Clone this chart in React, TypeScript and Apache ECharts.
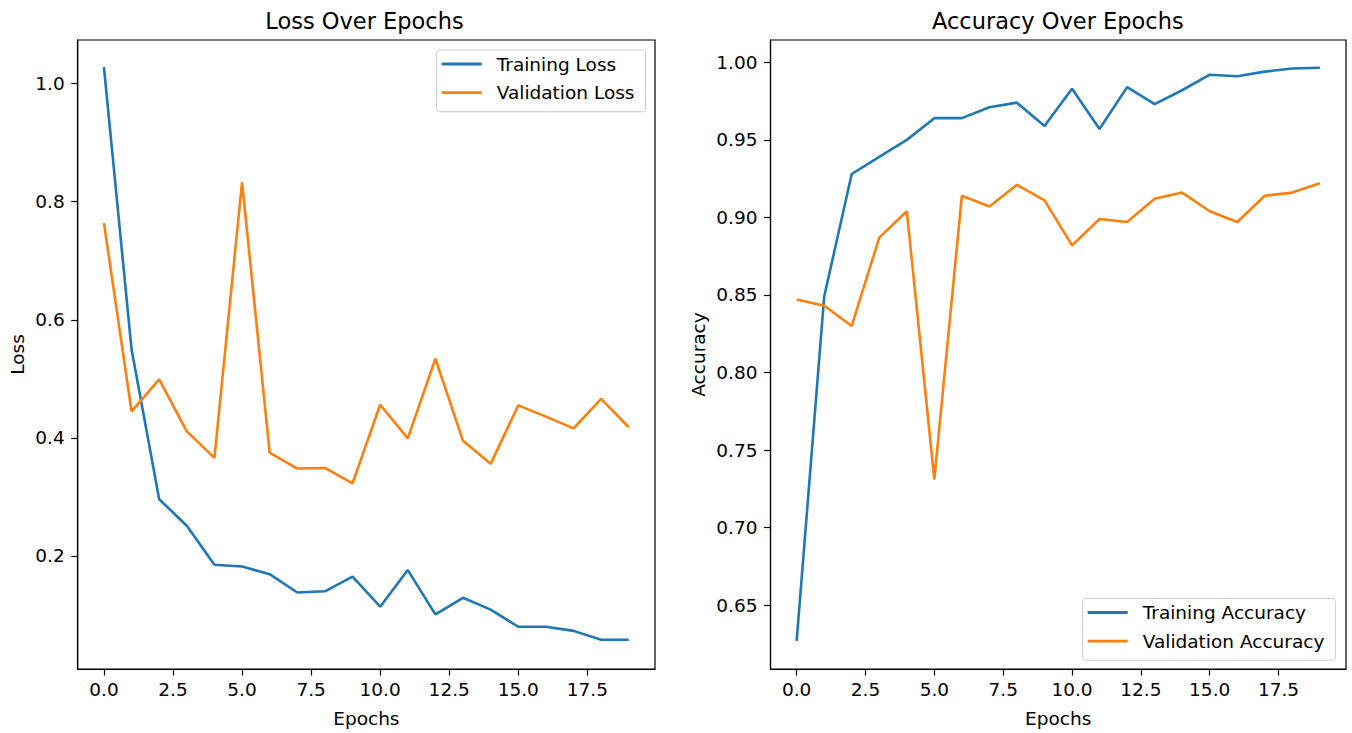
import React, { useEffect, useRef } from "react";
import * as echarts from "echarts";

const epochs = [0, 1, 2, 3, 4, 5, 6, 7, 8, 9, 10, 11, 12, 13, 14, 15, 16, 17, 18, 19];
const trainingLoss = [1.028, 0.55, 0.296, 0.251, 0.185, 0.182, 0.169, 0.138, 0.14, 0.165, 0.114, 0.176, 0.101, 0.129, 0.109, 0.08, 0.08, 0.073, 0.058, 0.058];
const validationLoss = [0.764, 0.445, 0.499, 0.411, 0.366, 0.833, 0.375, 0.348, 0.349, 0.323, 0.456, 0.399, 0.534, 0.395, 0.356, 0.455, 0.436, 0.416, 0.466, 0.418];
const trainingAccuracy = [0.627, 0.849, 0.928, 0.939, 0.95, 0.964, 0.964, 0.971, 0.974, 0.959, 0.983, 0.957, 0.984, 0.973, 0.982, 0.992, 0.991, 0.994, 0.996, 0.9965];
const validationAccuracy = [0.847, 0.843, 0.83, 0.887, 0.904, 0.731, 0.914, 0.907, 0.921, 0.911, 0.882, 0.899, 0.897, 0.912, 0.916, 0.904, 0.897, 0.914, 0.916, 0.922];

const xTicks = [0, 2.5, 5, 7.5, 10, 12.5, 15, 17.5];
const lossTicks = [0.2, 0.4, 0.6, 0.8, 1.0];
const accTicks = [0.65, 0.7, 0.75, 0.8, 0.85, 0.9, 0.95, 1.0];

const FONT = "DejaVu Sans";
const BLUE = "#1f77b4";
const ORANGE = "#ff7f0e";
const TXT = "#000";
const TICK_FS = 18.5;

function pairs(ys: number[]) {
  return epochs.map((e, i) => [e, ys[i]]);
}

function xAxisDef(gridIndex: number) {
  return {
    type: "value",
    gridIndex,
    min: -0.95,
    max: 19.95,
    axisLine: { show: true, onZero: false, lineStyle: { color: "#000", width: 1.2 } },
    axisTick: { show: true, length: 6.5, customValues: xTicks, lineStyle: { color: "#000", width: 1.2 } },
    axisLabel: {
      customValues: xTicks,
      formatter: (v: number) => v.toFixed(1),
      margin: 11,
      fontSize: TICK_FS,
      fontFamily: FONT,
      color: TXT,
    },
    splitLine: { show: false },
    name: "Epochs",
    nameLocation: "middle",
    nameGap: 40,
    nameTextStyle: { fontSize: TICK_FS, fontFamily: FONT, color: TXT },
  };
}

function yAxisDef(gridIndex: number, min: number, max: number, ticks: number[], digits: number, name: string, gap: number) {
  return {
    type: "value",
    gridIndex,
    min,
    max,
    axisLine: { show: true, onZero: false, lineStyle: { color: "#000", width: 1.2 } },
    axisTick: { show: true, length: 6.5, customValues: ticks, lineStyle: { color: "#000", width: 1.2 } },
    axisLabel: {
      customValues: ticks,
      formatter: (v: number) => v.toFixed(digits),
      margin: 13,
      fontSize: TICK_FS,
      fontFamily: FONT,
      color: TXT,
    },
    splitLine: { show: false },
    name,
    nameLocation: "middle",
    nameGap: gap,
    nameTextStyle: { fontSize: TICK_FS, fontFamily: FONT, color: TXT },
  };
}

function lineSeries(name: string, xi: number, ys: number[], color: string) {
  return {
    type: "line",
    name,
    xAxisIndex: xi,
    yAxisIndex: xi,
    data: pairs(ys),
    showSymbol: false,
    symbol: "none",
    lineStyle: { width: 2.6, color },
    itemStyle: { color },
    emphasis: { disabled: true },
  };
}

function legendDef(names: string[], left: number, top: number) {
  return {
    data: names,
    orient: "vertical",
    left,
    top,
    icon: "rect",
    itemWidth: 40,
    itemHeight: 2.8,
    itemGap: 8.7,
    padding: [4, 11, 9, 5],
    backgroundColor: "rgba(255,255,255,0.8)",
    borderColor: "#cccccc",
    borderWidth: 1,
    borderRadius: 3,
    selectedMode: false,
    textStyle: { fontFamily: FONT, fontSize: TICK_FS, color: TXT, lineHeight: 20, padding: [0, 0, 0, 10] },
  };
}

export default function App() {
  const ref = useRef<HTMLDivElement>(null);
  useEffect(() => {
    if (!ref.current) return;
    const chart = echarts.init(ref.current, undefined, { renderer: "svg" });
    chart.setOption({
      animation: false,
      backgroundColor: "#fff",
      grid: [
        { left: 77.7, top: 40, width: 577.3, height: 630, show: true, borderColor: "#000", borderWidth: 1.2, backgroundColor: "transparent" },
        { left: 770.5, top: 40, width: 575.5, height: 630, show: true, borderColor: "#000", borderWidth: 1.2, backgroundColor: "transparent" },
      ],
      xAxis: [xAxisDef(0), xAxisDef(1)],
      yAxis: [
        yAxisDef(0, 0.0084, 1.074, lossTicks, 1, "Loss", 51),
        yAxisDef(1, 0.6088, 1.0144, accTicks, 2, "Accuracy", 63),
      ],
      legend: [
        legendDef(["Training Loss", "Validation Loss"], 436.7, 50),
        legendDef(["Training Accuracy", "Validation Accuracy"], 1082.7, 598.5),
      ],
      graphic: [
        {
          type: "text",
          x: 364.5,
          y: 21,
          style: { text: "Loss Over Epochs", fill: TXT, fontSize: 22.5, fontFamily: FONT, textAlign: "center", textVerticalAlign: "middle" },
        },
        {
          type: "text",
          x: 1057.8,
          y: 21,
          style: { text: "Accuracy Over Epochs", fill: TXT, fontSize: 22.5, fontFamily: FONT, textAlign: "center", textVerticalAlign: "middle" },
        },
      ],
      series: [
        lineSeries("Training Loss", 0, trainingLoss, BLUE),
        lineSeries("Validation Loss", 0, validationLoss, ORANGE),
        lineSeries("Training Accuracy", 1, trainingAccuracy, BLUE),
        lineSeries("Validation Accuracy", 1, validationAccuracy, ORANGE),
      ],
    });
    return () => chart.dispose();
  }, []);
  return (
    <div
      ref={ref}
      style={{ position: "fixed", left: 0, top: 0, width: 1352, height: 733, background: "#fff" }}
    />
  );
}
